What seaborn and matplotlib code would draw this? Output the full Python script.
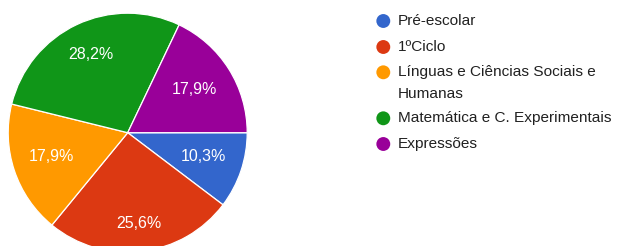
import numpy as np
import matplotlib
matplotlib.use("Agg")
import matplotlib.pyplot as plt
import seaborn as sns

# ---- data ----
categories = ["Pré-escolar", "1ºCiclo", "Línguas e Ciências Sociais e\nHumanas",
              "Matemática e C. Experimentais", "Expressões"]
values = [10.3, 25.6, 17.9, 28.2, 17.9]
pct_labels = ["10,3%", "25,6%", "17,9%", "28,2%", "17,9%"]
colors = ["#3366cc", "#dc3912", "#ff9900", "#109618", "#990099"]

sns.set_theme(style="white")
plt.rcParams['font.family'] = ['Liberation Sans', 'DejaVu Sans']

W, H = 619, 246
fig = plt.figure(figsize=(W / 100, H / 100), dpi=100)
fig.patch.set_facecolor("white")

# pie axes placed in pixel terms
cx, cy, r = 127.7, 132.7, 119.5
ax = fig.add_axes([(cx - r) / W, (H - cy - r) / H, 2 * r / W, 2 * r / H])
palette = sns.color_palette(colors)
wedges, _ = ax.pie(values, colors=palette, startangle=0, counterclock=False,
                   radius=1.0, wedgeprops=dict(edgecolor="white", linewidth=0.9))
ax.set_xlim(-1, 1)
ax.set_ylim(-1, 1)
ax.set_aspect("auto")
ax.axis("off")

label_dist = [0.667, 0.772, 0.673, 0.711, 0.665]
for w, lab, d in zip(wedges, pct_labels, label_dist):
    mid = np.deg2rad((w.theta1 + w.theta2) / 2)
    ax.text(d * np.cos(mid), d * np.sin(mid) + 0.01, lab, color="white",
            fontsize=11.5, ha="center", va="center")

# legend overlay in pixel coordinates
lax = fig.add_axes([0, 0, 1, 1])
lax.set_xlim(0, W)
lax.set_ylim(H, 0)
lax.axis("off")
lax.patch.set_alpha(0)
ys = [21, 47, 72.3, 118.3, 144]
for y, c, lab in zip(ys, palette, categories):
    lax.scatter([383.3], [y], s=100, color=c, edgecolor="none")
    for i, line in enumerate(lab.split("\n")):
        lax.text(397.5, y + i * 21.5, line, fontsize=11.1, color="#212121",
                 ha="left", va="center")

fig.savefig("out.png", dpi=100)
